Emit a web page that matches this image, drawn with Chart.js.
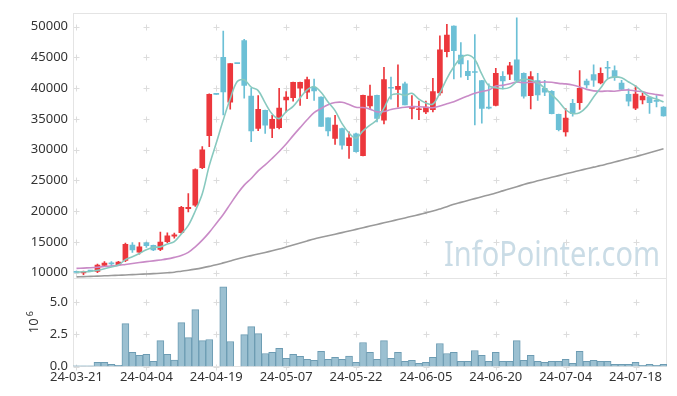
<!DOCTYPE html>
<html>
<head>
<meta charset="utf-8">
<script src="https://cdn.jsdelivr.net/npm/chart.js@4.4.1/dist/chart.umd.min.js"></script>
<style>
html,body{margin:0;padding:0;background:#fff;}
canvas{display:block;}
</style>
</head>
<body>
<canvas id="c" width="677" height="396"></canvas>
<script>
const dates = [
 '24-03-21','24-03-22','24-03-25','24-03-26','24-03-27','24-03-28','24-03-29','24-04-01','24-04-02','24-04-03',
 '24-04-04','24-04-05','24-04-08','24-04-09','24-04-11','24-04-12','24-04-15','24-04-16','24-04-17','24-04-18',
 '24-04-19','24-04-22','24-04-23','24-04-24','24-04-25','24-04-26','24-04-29','24-04-30','24-05-02','24-05-03',
 '24-05-07','24-05-08','24-05-09','24-05-10','24-05-13','24-05-14','24-05-16','24-05-17','24-05-20','24-05-21',
 '24-05-22','24-05-23','24-05-24','24-05-27','24-05-28','24-05-29','24-05-30','24-05-31','24-06-03','24-06-04',
 '24-06-05','24-06-07','24-06-10','24-06-11','24-06-12','24-06-13','24-06-14','24-06-17','24-06-18','24-06-19',
 '24-06-20','24-06-21','24-06-24','24-06-25','24-06-26','24-06-27','24-06-28','24-07-01','24-07-02','24-07-03',
 '24-07-04','24-07-05','24-07-08','24-07-09','24-07-10','24-07-11','24-07-12','24-07-15','24-07-16','24-07-17',
 '24-07-18','24-07-19','24-07-22','24-07-23','24-07-24'
];

const opens = [
 10100,9950,10300,10200,11200,11500,11250,12000,14500,13350,
 14850,14450,13800,15050,15950,16500,20400,21000,27100,32300,
 39000,45000,37750,44000,47750,38700,33450,36400,33450,33600,
 38100,38450,40000,39350,40150,38550,35200,31850,33450,30650,
 32600,29050,37100,38850,34800,40050,39800,40700,36700,36500,
 36150,36500,39250,45950,50100,45400,42750,42600,41250,36800,
 37200,41950,42300,44600,42400,38800,41250,40000,39500,35750,
 32900,37550,37650,41150,42200,40850,43300,42850,40850,39000,
 36750,38100,38550,37900,36950
];
const highs = [
 10250,10250,10350,11400,11800,11800,11850,14800,14900,14900,
 15000,14500,16600,16500,16450,20800,22850,26900,30500,39100,
 39000,49300,44000,44000,47950,40000,38800,36450,35600,40000,
 39450,41000,41000,41800,41500,38600,35200,35600,33500,32900,
 32700,38900,40500,38900,43400,41800,43800,41000,38800,37900,
 37900,41600,48500,50400,50150,47400,44500,48700,41300,40700,
 43250,42700,44200,51450,42500,42700,42400,41300,39600,35800,
 36700,38200,42850,41500,43800,43300,44350,43650,41300,39900,
 40400,39200,38600,38800,37000
];
const lows = [
 9950,9700,10200,10000,11000,11100,11200,11800,13300,13000,
 14100,13600,13600,14900,15600,16400,19900,20800,26900,30500,
 39000,35650,36600,44000,38400,31300,33100,32650,31950,33400,
 36150,37900,37200,38300,38000,33800,32250,30850,30100,28600,
 29600,29000,36600,34500,34200,38200,36900,37300,35000,34900,
 35850,36150,38850,45100,41500,41800,41400,34050,34300,36650,
 37100,39900,41400,40900,38400,36650,38000,38800,35800,33050,
 32200,35450,36550,40050,40300,40700,41650,41250,39700,37100,
 36500,37450,35900,36950,35450
];
const closes = [
 10050,10150,10250,11250,11550,11450,11750,14600,13700,14200,
 14400,13700,15000,16000,16150,20650,20650,26750,30000,39000,
 39000,39400,44000,44000,40450,33050,36550,34000,34950,36750,
 38550,40950,40950,41400,39550,33800,33050,34000,30750,31950,
 29700,38850,38700,35100,41400,40000,40300,37300,36900,36550,
 36950,39450,46250,48650,46100,43950,42050,42550,36700,36750,
 42400,41200,43650,41250,38700,41900,38900,39350,35850,33250,
 35150,35850,40000,40550,41300,42400,43250,41700,39800,37900,
 39050,38700,37650,37850,35500
];
// traded volume, millions of shares
const volumes = [
 0.06,0.06,0.06,0.32,0.32,0.17,0.09,3.32,1.09,0.86,
 0.94,0.40,2.01,0.94,0.50,3.40,2.24,4.40,2.01,2.09,
 0,6.17,1.94,0,2.47,3.09,2.55,1.01,1.09,1.40,
 0.63,0.94,0.78,0.55,0.47,1.17,0.55,0.71,0.55,0.81,
 0.32,1.86,1.09,0.55,2.01,0.63,1.09,0.40,0.47,0.24,
 0.32,0.71,1.78,1.01,1.09,0.40,0.40,1.24,0.86,0.40,
 1.09,0.40,0.40,2.01,0.47,0.86,0.40,0.32,0.40,0.40,
 0.55,0.24,1.17,0.40,0.47,0.40,0.40,0.17,0.17,0.17,
 0.32,0.09,0.17,0.09,0.17
];
const ma5 = [
 10100,10150,10200,10400,10650,10930,11250,12120,12610,13140,
 13730,14120,14200,14660,15050,16300,17690,20040,22840,27410,
 31080,34830,38280,41080,41370,40180,39610,37610,35800,35060,
 36160,37040,38430,39720,40280,39330,37750,36360,34230,32710,
 31890,33050,33990,34860,36750,38810,39100,38820,39180,38210,
 37600,37430,39220,41570,43480,44880,45400,44660,42270,40400,
 40090,39920,40140,41050,41440,41340,40880,40020,38940,37850,
 36500,35890,36020,36960,38570,40020,41500,41840,41690,41010,
 40340,39430,38620,38230,37750
];
const ma20 = [
 10700,10750,10820,10900,11000,11100,11200,11350,11500,11650,
 11800,11930,12080,12250,12500,12800,13300,14200,15300,16560,
 18010,19470,21160,22800,24240,25320,26560,27530,28600,29720,
 30930,32290,33590,34860,36030,36690,37310,37670,37710,37360,
 36890,36860,36600,36150,36200,36550,36740,36900,37000,36990,
 36910,36830,37100,37460,37790,38300,38750,39170,39470,39710,
 40350,40460,40710,41020,40880,40980,40910,41010,40960,40790,
 40700,40520,40210,39810,39570,39490,39550,39510,39660,39720,
 39550,39430,39130,38960,38800
];
const maLong = [
 9330,9370,9410,9450,9500,9540,9590,9640,9690,9740,
 9790,9850,9920,10000,10090,10250,10400,10580,10790,11030,
 11290,11600,11920,12240,12530,12780,13050,13300,13570,13860,
 14180,14510,14840,15170,15490,15760,16010,16270,16520,16780,
 17050,17320,17590,17850,18120,18380,18640,18910,19180,19450,
 19730,20030,20370,20730,21140,21440,21740,22050,22350,22650,
 22960,23310,23650,23990,24330,24650,24940,25230,25510,25790,
 26080,26350,26620,26900,27170,27420,27710,28000,28290,28580,
 28870,29190,29510,29830,30150
];
const priceTicks = [10000,15000,20000,25000,30000,35000,40000,45000,50000];
const volumeTicks = [0,2.5,5];
const labelEvery = 10;

const FONT = "'Noto Sans', 'DejaVu Sans', sans-serif";
Chart.defaults.font.family = FONT;
Chart.defaults.font.size = 13;
Chart.defaults.color = '#333';

const UP = '#ec373c', DOWN = '#6cc0d6';
const candleColors = closes.map((c, i) => c > opens[i] ? UP : DOWN);

const decor = {
  id: 'decor',
  beforeDatasetsDraw(chart) {
    const {ctx, chartArea: a, scales} = chart;
    const x = scales.x, y = scales.y, yv = scales.yv;
    ctx.save();
    // watermark
    ctx.fillStyle = '#cadce6';
    ctx.font = '34px ' + FONT;
    ctx.textAlign = 'left';
    ctx.textBaseline = 'alphabetic';
    ctx.fillText('InfoPointer.com', 444, 266, 216);
    // grid crosses
    const xs = [];
    dates.forEach((d, i) => { if (i % labelEvery === 0) xs.push(Math.round(x.getPixelForValue(i)) + 0.5); });
    const ys = priceTicks.map(v => y.getPixelForValue(v))
      .concat(volumeTicks.map(v => yv.getPixelForValue(v)))
      .map(p => Math.round(p) + 0.5);
    ctx.strokeStyle = '#dcdcdc';
    ctx.lineWidth = 1;
    ctx.beginPath();
    xs.forEach(px => ys.forEach(py => {
      ctx.moveTo(px - 3, py); ctx.lineTo(px + 3, py);
      ctx.moveTo(px, py - 3); ctx.lineTo(px, py + 3);
    }));
    ctx.stroke();
    // frame
    ctx.strokeStyle = '#e4e4e4';
    const l = Math.round(a.left) + 0.5, t = Math.round(a.top) + 0.5;
    const r = Math.round(a.right) - 0.5, b = Math.round(a.bottom) - 0.5;
    ctx.strokeRect(l, t, r - l, b - t);
    const yb = Math.round(y.bottom) + 0.5;
    ctx.beginPath(); ctx.moveTo(l, yb); ctx.lineTo(r, yb); ctx.stroke();
    ctx.restore();
  },
  afterDraw(chart) {
    const {ctx} = chart;
    const yv = chart.scales.yv;
    const cy = (yv.top + yv.bottom) / 2 + 3.5;
    ctx.save();
    ctx.translate(34, cy);
    ctx.rotate(-Math.PI / 2);
    ctx.fillStyle = '#333';
    ctx.font = '13px ' + FONT;
    ctx.textAlign = 'center';
    ctx.textBaseline = 'middle';
    ctx.fillText('10', 0, 0);
    const w = ctx.measureText('10').width;
    ctx.font = '9px ' + FONT;
    ctx.textAlign = 'left';
    ctx.fillText('6', w / 2 + 2, -4);
    ctx.restore();
  }
};

new Chart(document.getElementById('c'), {
  type: 'bar',
  data: {
    labels: dates,
    datasets: [
      { type: 'line', label: 'MA5', data: ma5, yAxisID: 'y', borderColor: '#88c9bf', borderWidth: 1.6,
        pointRadius: 0, tension: 0.35, fill: false, order: 1 },
      { type: 'line', label: 'MA20', data: ma20, yAxisID: 'y', borderColor: '#c98bc7', borderWidth: 1.6,
        pointRadius: 0, tension: 0.35, fill: false, order: 2 },
      { type: 'line', label: 'MA long', data: maLong, yAxisID: 'y', borderColor: '#9a9a9a', borderWidth: 1.6,
        pointRadius: 0, tension: 0.35, fill: false, order: 2 },
      { label: 'body', data: opens.map((o, i) => [o, closes[i]]), yAxisID: 'y',
        backgroundColor: candleColors, barThickness: 5, minBarLength: 1, grouped: false, borderWidth: 0, order: 3 },
      { label: 'wick', data: lows.map((lo, i) => [lo, highs[i]]), yAxisID: 'y',
        backgroundColor: candleColors, barThickness: 1, grouped: false, borderWidth: 0, order: 4 },
      { label: 'volume', data: volumes, yAxisID: 'yv', backgroundColor: '#9bc0d1', borderColor: '#6d9cb3',
        borderWidth: 1, barPercentage: 1, categoryPercentage: 1, grouped: false, order: 5 }
    ]
  },
  options: {
    responsive: false,
    animation: false,
    devicePixelRatio: 1,
    layout: { padding: { top: 10, right: 10, left: 0, bottom: 0 } },
    plugins: { legend: { display: false }, tooltip: { enabled: false } },
    scales: {
      x: {
        type: 'category', offset: true,
        grid: { display: false, drawTicks: false }, border: { display: false },
        ticks: { autoSkip: false, maxRotation: 0, minRotation: 0, padding: 3,
          callback: (v, i) => (i % labelEvery === 0 ? dates[i] : null) },
        afterFit: s => { s.height = 29.5; }
      },
      y: {
        type: 'linear', position: 'left', stack: 'panels', stackWeight: 3, weight: 1,
        min: 9130, max: 52260,
        afterBuildTicks: s => { s.ticks = priceTicks.map(v => ({ value: v })); },
        grid: { display: false, drawTicks: false }, border: { display: false },
        ticks: { autoSkip: false, padding: 5, callback: v => String(v) },
        afterFit: s => { s.width = 73; }
      },
      yv: {
        type: 'linear', position: 'left', stack: 'panels', stackWeight: 1, weight: 0,
        min: 0, max: 6.85,
        afterBuildTicks: s => { s.ticks = volumeTicks.map(v => ({ value: v })); },
        grid: { display: false, drawTicks: false }, border: { display: false },
        ticks: { autoSkip: false, padding: 5, callback: v => Number(v).toFixed(1) },
        afterFit: s => { s.width = 73; }
      }
    }
  },
  plugins: [decor]
});
</script>
</body>
</html>
